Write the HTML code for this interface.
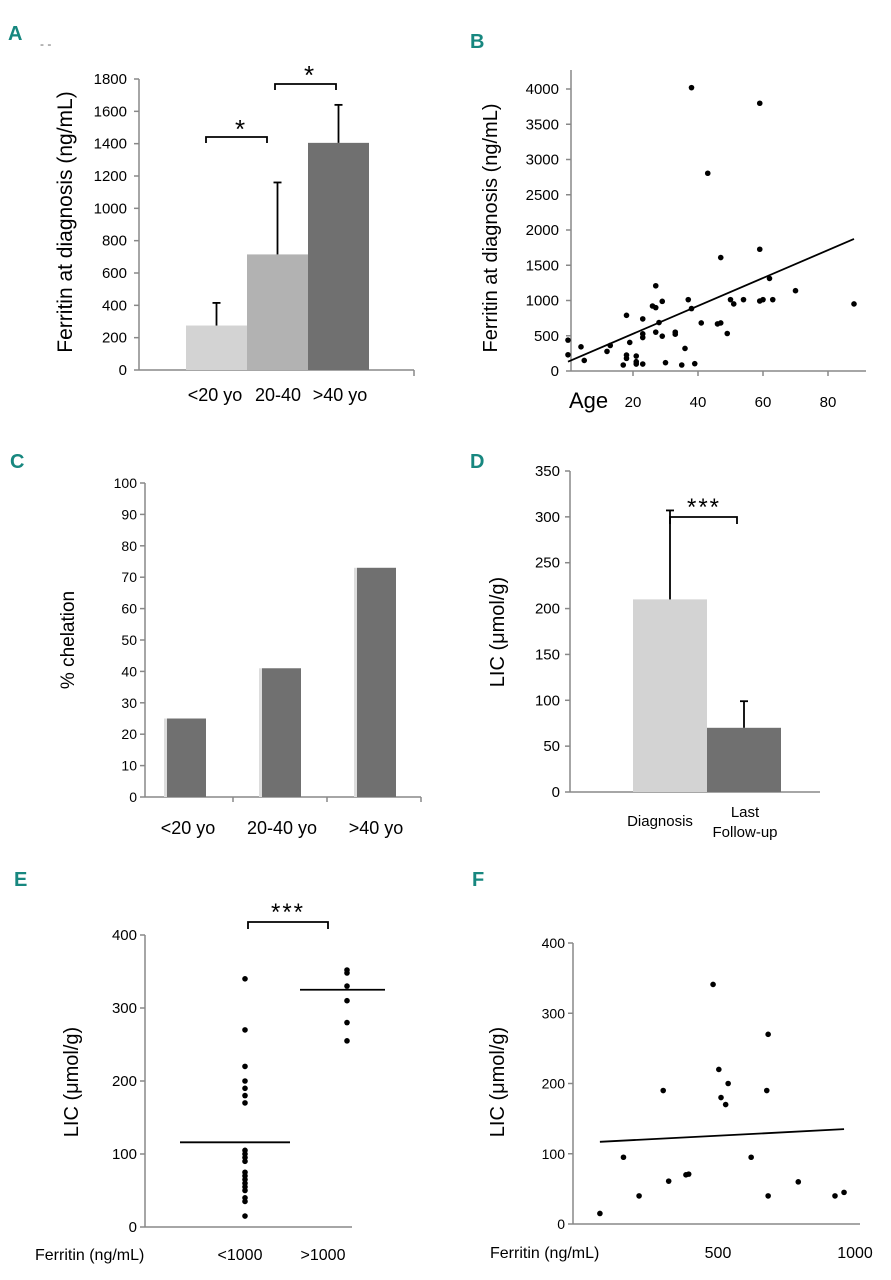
<!DOCTYPE html>
<html><head><meta charset="utf-8"><style>
body{margin:0;background:#fff}
svg{display:block;font-family:"Liberation Sans",sans-serif}
.lt{font-family:"Liberation Sans",sans-serif;font-weight:bold;fill:#17877f;font-size:20px}
</style></head><body>
<svg id="s" width="891" height="1280" viewBox="0 0 891 1280">
<text class="lt" x="8" y="40">A</text>
<text x="40" y="48" font-size="12" fill="#666">- -</text>
<text class="lt" x="470" y="48">B</text>
<text class="lt" x="10" y="468">C</text>
<text class="lt" x="470" y="468">D</text>
<text class="lt" x="14" y="886">E</text>
<text class="lt" x="472" y="886">F</text>
</svg>
<script>
// Panel A
const aCats=["<20 yo","20-40",">40 yo"];
const aVals=[275,715,1405];
const aErr=[415,1160,1640];
const aTicks=[0,200,400,600,800,1000,1200,1400,1600,1800];
// Panel B
const bAge=[0,0,4,5,12,13,17,18,18,18,19,21,21,21,23,23,23,23,26,27,27,27,28,29,29,30,33,33,35,36,37,38,38,39,41,43,46,47,47,49,50,51,54,59,59,59,60,62,63,70,88];
const bFer=[438,230,343,150,278,362,85,790,226,179,405,212,132,99,739,527,475,99,922,899,1209,551,687,988,494,118,551,522,85,320,1012,885,4019,104,682,2805,668,682,1609,532,1012,951,1012,3798,1727,993,1012,1313,1012,1139,951];
const bFit=[[0,132],[88,1873]];
const bYTicks=[0,500,1000,1500,2000,2500,3000,3500,4000];
const bXTicks=[20,40,60,80];
// Panel C
const cCats=["<20 yo","20-40 yo",">40 yo"];
const cVals=[25,41,73];
const cTicks=[0,10,20,30,40,50,60,70,80,90,100];
// Panel D
const dVals=[210,70];
const dErr=[307,99];
const dTicks=[0,50,100,150,200,250,300,350];
// Panel E
const eLow=[340,270,220,200,190,180,170,105,100,95,90,75,70,65,60,55,50,40,35,15];
const eHigh=[352,348,330,310,280,255];
const eMeans=[116,325];
const eTicks=[0,100,200,300,400];
// Panel F
const fFer=[69,155,212,300,320,383,393,482,503,511,528,537,621,678,683,683,793,927,960];
const fLic=[15,95,40,190,61,70,71,341,220,180,170,200,95,190,270,40,60,40,45];
const fFit=[[69,117],[960,135]];
const fYTicks=[0,100,200,300,400];
const fXTicks=[500,1000];

const S=document.getElementById('s');
const NS='http://www.w3.org/2000/svg';
function el(t,a,txt){const e=document.createElementNS(NS,t);for(const k in a)e.setAttribute(k,a[k]);if(txt!==undefined)e.textContent=txt;S.appendChild(e);return e;}
function ln(x1,y1,x2,y2,c,w){return el('line',{x1,y1,x2,y2,stroke:c||'#000','stroke-width':w||1.5});}

// ---------- A ----------
{const x0=139,y0=370,yA=v=>y0-v*(291/1800);
let e=ln(x0,79,x0,y0,'#888',1.5);
e=ln(x0,y0,414,y0,'#888',1.5);
ln(414,y0,414,376,'#888',1.5);
aTicks.forEach(t=>{ln(x0-5,yA(t),x0,yA(t),'#888',1.5);
 e=el('text',{x:x0-12,y:yA(t)+5,'font-size':15,'text-anchor':'end'},t);});
const cols=['#d3d3d3','#b2b2b2','#707070'],bw=61,bx=i=>186+i*bw;
aVals.forEach((v,i)=>{e=el('rect',{x:bx(i),y:yA(v),width:bw,height:y0-yA(v),fill:cols[i]});
 const cx=bx(i)+bw/2;ln(cx,yA(v),cx,yA(aErr[i]),'#000',1.8);ln(cx-4,yA(aErr[i]),cx+4,yA(aErr[i]),'#000',1.8);});
const lbx=[215,278,340];
aCats.forEach((c,i)=>{e=el('text',{x:lbx[i],y:401,'font-size':18,'text-anchor':'middle'},c);});
el('path',{d:'M206,143 V137 H267 V143',fill:'none',stroke:'#000','stroke-width':1.8});
el('path',{d:'M275,90 V84 H336 V90',fill:'none',stroke:'#000','stroke-width':1.8});
el('text',{x:240,y:138,'font-size':26,'text-anchor':'middle'},'*');
el('text',{x:309,y:84,'font-size':26,'text-anchor':'middle'},'*');
e=el('text',{x:0,y:0,'font-size':21,'text-anchor':'middle',transform:'translate(72,222) rotate(-90)'},'Ferritin at diagnosis (ng/mL)');}

// ---------- B ----------
{const x0=571,y0=371,xB=v=>568+v*3.25,yB=v=>y0-v*(282/4000);
let e=ln(x0,70,x0,y0,'#888',1.5);
e=ln(x0,y0,866,y0,'#888',1.5);
bYTicks.forEach(t=>{ln(x0-5,yB(t),x0,yB(t),'#888',1.5);
 e=el('text',{x:x0-12,y:yB(t)+5,'font-size':15,'text-anchor':'end'},t);});
bXTicks.forEach(t=>{ln(xB(t),y0,xB(t),y0+5,'#888',1.5);
 e=el('text',{x:xB(t),y:407,'font-size':15,'text-anchor':'middle'},t);});
e=el('text',{x:569,y:408,'font-size':22},'Age');
bAge.forEach((a,i)=>{e=el('circle',{cx:xB(a),cy:yB(bFer[i]),r:2.8,fill:'#000'});});
e=ln(xB(bFit[0][0]),yB(bFit[0][1]),xB(bFit[1][0]),yB(bFit[1][1]),'#000',1.8);
e=el('text',{x:0,y:0,'font-size':20,'text-anchor':'middle',transform:'translate(497,228) rotate(-90)'},'Ferritin at diagnosis (ng/mL)');}

// ---------- C ----------
{const x0=145,y0=797,yC=v=>y0-v*3.14;
let e=ln(x0,483,x0,y0,'#888',1.5);
e=ln(x0,y0,421,y0,'#888',1.5);
[233,327,421].forEach(x=>ln(x,y0,x,y0+5,'#888',1.5));
cTicks.forEach(t=>{ln(x0-5,yC(t),x0,yC(t),'#888',1.5);
 e=el('text',{x:x0-8,y:yC(t)+5,'font-size':14,'text-anchor':'end'},t);});
cVals.forEach((v,i)=>{const bx=167+i*95;el('rect',{x:bx-3,y:yC(v),width:3,height:y0-yC(v),fill:'#ddd'});
 e=el('rect',{x:bx,y:yC(v),width:39,height:y0-yC(v),fill:'#707070'});
 e=el('text',{x:188+i*94,y:834,'font-size':18,'text-anchor':'middle'},cCats[i]);});
e=el('text',{x:0,y:0,'font-size':19,'text-anchor':'middle',transform:'translate(74,640) rotate(-90)'},'% chelation');}

// ---------- D ----------
{const x0=570,y0=792,yD=v=>y0-v*(321/350);
let e=ln(x0,471,x0,y0,'#888',1.5);
e=ln(x0,y0,820,y0,'#888',1.5);
dTicks.forEach(t=>{ln(x0-5,yD(t),x0,yD(t),'#888',1.5);
 e=el('text',{x:x0-10,y:yD(t)+5,'font-size':15,'text-anchor':'end'},t);});
const cols=['#d3d3d3','#707070'];
dVals.forEach((v,i)=>{const bx=633+i*74;e=el('rect',{x:bx,y:yD(v),width:74,height:y0-yD(v),fill:cols[i]});
 const cx=bx+37;ln(cx,yD(v),cx,yD(dErr[i]),'#000',1.8);ln(cx-4,yD(dErr[i]),cx+4,yD(dErr[i]),'#000',1.8);});
el('path',{d:'M670,524 V517 H737 V524',fill:'none',stroke:'#000','stroke-width':1.8});
el('text',{x:704,y:515,'font-size':24,'text-anchor':'middle','letter-spacing':'2'},'***');
el('text',{x:660,y:826,'font-size':15,'text-anchor':'middle'},'Diagnosis');
el('text',{x:745,y:817,'font-size':15,'text-anchor':'middle'},'Last');
el('text',{x:745,y:837,'font-size':15,'text-anchor':'middle'},'Follow-up');
e=el('text',{x:0,y:0,'font-size':20,'text-anchor':'middle',transform:'translate(504,632) rotate(-90)'},'LIC (\u03bcmol/g)');}

// ---------- E ----------
{const x0=145,y0=1227,yE=v=>y0-v*0.73;
let e=ln(x0,935,x0,y0,'#888',1.5);
e=ln(x0,y0,352,y0,'#888',1.5);
eTicks.forEach(t=>{ln(x0-5,yE(t),x0,yE(t),'#888',1.5);
 e=el('text',{x:x0-8,y:yE(t)+5,'font-size':15,'text-anchor':'end'},t);});
eLow.forEach(v=>{e=el('circle',{cx:245,cy:yE(v),r:2.8,fill:'#000'});});
eHigh.forEach(v=>{e=el('circle',{cx:347,cy:yE(v),r:2.8,fill:'#000'});});
e=ln(180,yE(eMeans[0]),290,yE(eMeans[0]),'#000',1.8);
e=ln(300,yE(eMeans[1]),385,yE(eMeans[1]),'#000',1.8);
el('path',{d:'M248,929 V922 H328 V929',fill:'none',stroke:'#000','stroke-width':1.8});
el('text',{x:288,y:920,'font-size':24,'text-anchor':'middle','letter-spacing':'2'},'***');
el('text',{x:35,y:1260,'font-size':16},'Ferritin (ng/mL)');
el('text',{x:240,y:1260,'font-size':16,'text-anchor':'middle'},'<1000');
el('text',{x:323,y:1260,'font-size':16,'text-anchor':'middle'},'>1000');
e=el('text',{x:0,y:0,'font-size':20,'text-anchor':'middle',transform:'translate(78,1082) rotate(-90)'},'LIC (\u03bcmol/g)');}

// ---------- F ----------
{const x0=573,y0=1224,xF=v=>581+v*0.274,yF=v=>y0-v*0.7025;
let e=ln(x0,943,x0,y0,'#888',1.5);
e=ln(x0,y0,860,y0,'#888',1.5);
fYTicks.forEach(t=>{ln(x0-5,yF(t),x0,yF(t),'#888',1.5);
 e=el('text',{x:x0-8,y:yF(t)+5,'font-size':14,'text-anchor':'end'},t);});
fXTicks.forEach(t=>{e=el('text',{x:xF(t),y:1258,'font-size':16,'text-anchor':'middle'},t);});
fFer.forEach((f,i)=>{e=el('circle',{cx:xF(f),cy:yF(fLic[i]),r:2.8,fill:'#000'});});
e=ln(xF(fFit[0][0]),yF(fFit[0][1]),xF(fFit[1][0]),yF(fFit[1][1]),'#000',1.8);
el('text',{x:490,y:1258,'font-size':16},'Ferritin (ng/mL)');
e=el('text',{x:0,y:0,'font-size':20,'text-anchor':'middle',transform:'translate(504,1082) rotate(-90)'},'LIC (\u03bcmol/g)');}
</script>
</body></html>
